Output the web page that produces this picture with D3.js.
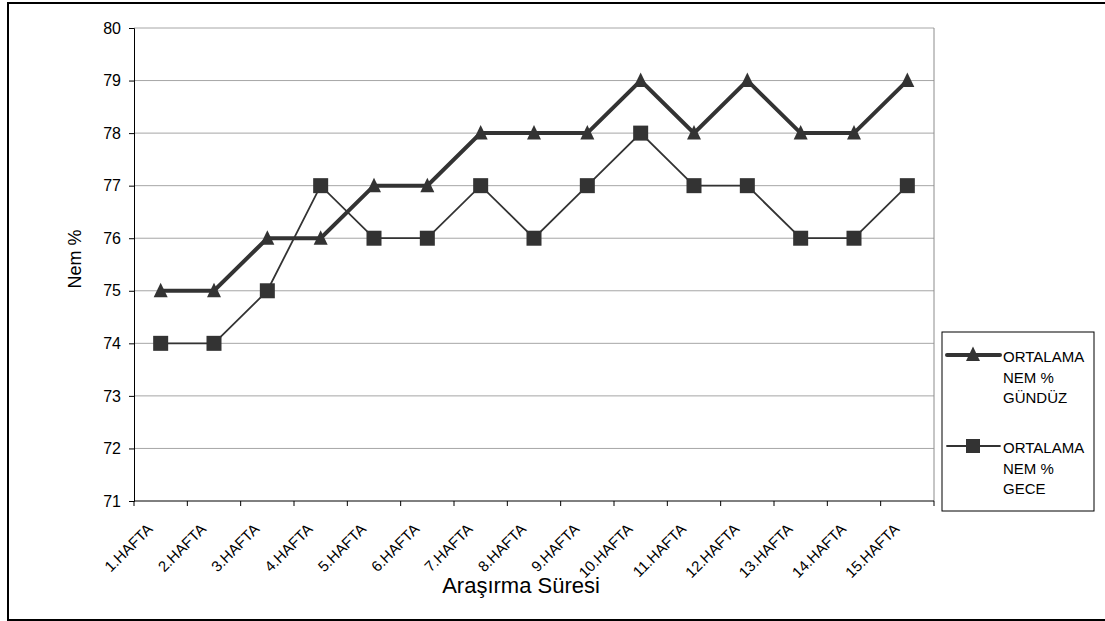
<!DOCTYPE html>
<html>
<head>
<meta charset="utf-8">
<script src="https://cdn.jsdelivr.net/npm/d3@7"></script>
<style>
  body { margin: 0; background: #fff; }
  svg { display: block; font-family: "Liberation Sans", Arial, sans-serif; }
</style>
</head>
<body>
<svg id="chart" width="1105" height="621"></svg>
<script>
// Weekly average humidity (%) over the study period
const weeks = ["1.HAFTA","2.HAFTA","3.HAFTA","4.HAFTA","5.HAFTA","6.HAFTA","7.HAFTA","8.HAFTA",
               "9.HAFTA","10.HAFTA","11.HAFTA","12.HAFTA","13.HAFTA","14.HAFTA","15.HAFTA"];
const gunduz = [75,75,76,76,77,77,78,78,78,79,78,79,78,78,79];
const gece   = [74,74,75,77,76,76,77,76,77,78,77,77,76,76,77];
const yTicks = [71,72,73,74,75,76,77,78,79,80];
const seriesNames = [["ORTALAMA","NEM %","GÜNDÜZ"],["ORTALAMA","NEM %","GECE"]];

const svg = d3.select("#chart");
const plot = { left: 134, right: 934, top: 28, bottom: 501 };
const ink = "#333333";
const font = "Liberation Sans, Arial, sans-serif";

// outer frame
svg.append("rect").attr("x", 8).attr("y", 3).attr("width", 1105).attr("height", 617)
  .attr("fill", "none").attr("stroke", "#000").attr("stroke-width", 2);

const x = d3.scaleBand().domain(weeks).range([plot.left, plot.right]).padding(0);
const y = d3.scaleLinear().domain([71, 80]).range([plot.bottom, plot.top]);

// horizontal gridlines
svg.append("g").selectAll("line").data(yTicks.slice(1)).join("line")
  .attr("x1", plot.left).attr("x2", plot.right)
  .attr("y1", d => y(d)).attr("y2", d => y(d))
  .attr("stroke", "#a6a6a6").attr("stroke-width", 1);

// plot area right edge
svg.append("line").attr("x1", plot.right).attr("x2", plot.right)
  .attr("y1", plot.top).attr("y2", plot.bottom).attr("stroke", "#8c8c8c");

// y axis
const yAxis = svg.append("g").attr("transform", `translate(${plot.left},0)`)
  .call(d3.axisLeft(y).tickValues(yTicks).tickSize(5).tickPadding(8).tickFormat(d3.format("d")));
yAxis.attr("font-family", font).attr("font-size", 16);
yAxis.select(".domain").attr("stroke", "#000");
yAxis.selectAll(".tick line").attr("stroke", "#000");
yAxis.selectAll("text").attr("fill", "#000");

// x axis with ticks at category boundaries
const xAxisG = svg.append("g").attr("transform", `translate(0,${plot.bottom})`);
xAxisG.append("line").attr("x1", plot.left).attr("x2", plot.right)
  .attr("stroke", "#000");
const bounds = weeks.map(w => x(w)).concat([plot.right]);
xAxisG.selectAll("line.tk").data(bounds).join("line").attr("class", "tk")
  .attr("x1", d => d).attr("x2", d => d).attr("y1", 0).attr("y2", 5).attr("stroke", "#000");
xAxisG.selectAll("text").data(weeks).join("text")
  .attr("transform", d => `translate(${x(d) + x.bandwidth() / 2 - 7},${29}) rotate(-45)`)
  .attr("text-anchor", "end").attr("font-size", 15).attr("fill", "#000")
  .text(d => d);

// axis titles
svg.append("text").attr("x", 521).attr("y", 593).attr("text-anchor", "middle")
  .attr("font-size", 22).attr("fill", "#000").text("Araşırma Süresi");
svg.append("text").attr("transform", `translate(81,${259}) rotate(-90)`)
  .attr("text-anchor", "middle").attr("font-size", 18).attr("fill", "#000").text("Nem %");

const cx = d => x(d) + x.bandwidth() / 2;
const line = d3.line();
const triPath = "M0,-7.5L7,7L-7,7Z";

// day series (thick line, triangles)
const dayPts = weeks.map((w, i) => [cx(w), y(gunduz[i])]);
svg.append("path").attr("d", line(dayPts)).attr("fill", "none")
  .attr("stroke", ink).attr("stroke-width", 4).attr("stroke-linejoin", "miter");
svg.append("g").selectAll("path").data(dayPts).join("path")
  .attr("transform", d => `translate(${d[0]},${d[1] - 0.5})`).attr("d", triPath).attr("fill", ink);

// night series (thin line, squares)
const nightPts = weeks.map((w, i) => [cx(w), y(gece[i])]);
svg.append("path").attr("d", line(nightPts)).attr("fill", "none")
  .attr("stroke", ink).attr("stroke-width", 1.8);
svg.append("g").selectAll("rect").data(nightPts).join("rect")
  .attr("x", d => d[0] - 7.5).attr("y", d => d[1] - 7.5)
  .attr("width", 15).attr("height", 15).attr("fill", ink);

// legend
const lg = svg.append("g");
lg.append("rect").attr("x", 942).attr("y", 332).attr("width", 152).attr("height", 179)
  .attr("fill", "#fff").attr("stroke", "#000").attr("stroke-width", 1);
const legendY = [355, 446];
legendY.forEach((ly, i) => {
  lg.append("line").attr("x1", 947).attr("x2", 1000).attr("y1", ly).attr("y2", ly)
    .attr("stroke", ink).attr("stroke-width", i === 0 ? 4 : 1.8).attr("stroke-linecap", "round");
  if (i === 0) {
    lg.append("path").attr("transform", `translate(973,${ly - 1})`).attr("d", triPath).attr("fill", ink);
  } else {
    lg.append("rect").attr("x", 966).attr("y", ly - 7).attr("width", 14).attr("height", 14).attr("fill", ink);
  }
  const t = lg.append("text").attr("x", 1003).attr("y", ly + 2).attr("font-size", 15)
    .attr("fill", "#000");
  seriesNames[i].forEach((s, j) => {
    t.append("tspan").attr("x", 1003).attr("dy", j === 0 ? "0.35em" : 20.5).text(s);
  });
});
</script>
</body>
</html>
